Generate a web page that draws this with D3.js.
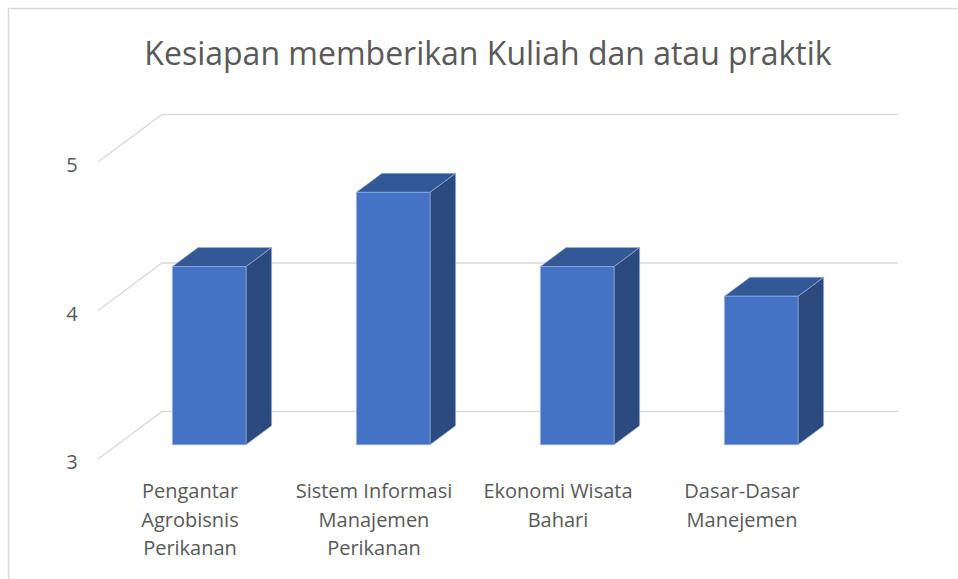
<!DOCTYPE html>
<html>
<head>
<meta charset="utf-8">
<script src="https://cdn.jsdelivr.net/npm/d3@7"></script>
<style>
  body { margin: 0; background: #fff; }
  text { font-family: "Open Sans", sans-serif; fill: #595959; }
</style>
</head>
<body>
<div id="chart"></div>
<script>
const width = 958;
const height = 579;

const title = "Kesiapan memberikan Kuliah dan atau praktik";
const categories = [
    "Pengantar Agrobisnis Perikanan",
    "Sistem Informasi Manajemen Perikanan",
    "Ekonomi Wisata Bahari",
    "Dasar-Dasar Manejemen"
];
const values = [4.2, 4.7, 4.2, 4.0];
const yTicks = [3, 4, 5];

// 3d look: depth vector of the floor/walls and where the bars sit in it
const depth = { dx: 64, dy: -47.5 };
const barDepth = [0.3, 0.7];

const svg = d3.select("#chart")
    .append("svg")
    .attr("width", width)
    .attr("height", height);

// chart frame (only top/left edge visible in the crop)
svg.append("rect")
    .attr("x", 8.5)
    .attr("y", 8.5)
    .attr("width", width + 20)
    .attr("height", height + 20)
    .style("fill", "none")
    .style("stroke", "#d9d9d9")
    .style("stroke-width", 1.5);

svg.append("text")
    .attr("x", 488)
    .attr("y", 65)
    .attr("text-anchor", "middle")
    .style("font-size", "32px")
    .text(title);

const x = d3.scaleBand()
    .domain(categories)
    .range([98, 834])
    .padding(0);

const y = d3.scaleLinear()
    .domain([3, 5])
    .range([459, 162]);

function project(px, py, d) {
    return [px + d * depth.dx, py + d * depth.dy];
}

// gridlines: front edge -> back wall
const line = d3.line();
svg.append("g")
    .selectAll("path")
    .data(yTicks)
    .enter()
    .append("path")
    .attr("d", v => line([
        [x.range()[0], y(v)],
        project(x.range()[0], y(v), 1),
        project(x.range()[1], y(v), 1)
    ]))
    .style("fill", "none")
    .style("stroke", "#d9d9d9")
    .style("stroke-width", 1.5);

svg.append("g")
    .selectAll("text")
    .data(yTicks)
    .enter()
    .append("text")
    .attr("x", 72)
    .attr("y", v => y(v) + 10)
    .attr("text-anchor", "middle")
    .style("font-size", "20px")
    .text(d => d);

// bars
const barW = x.bandwidth() * 0.4;
const bars = svg.append("g")
    .selectAll("g")
    .data(categories.map((c, i) => ({ name: c, value: values[i] })))
    .enter()
    .append("g");

function face(d, kind) {
    const x0 = x(d.name) + x.bandwidth() / 2 - barW / 2;
    const x1 = x0 + barW;
    const yt = y(d.value);
    const yb = y(3);
    const a = barDepth[0], b = barDepth[1];
    let pts;
    if (kind === "front") {
        pts = [project(x0, yt, a), project(x1, yt, a), project(x1, yb, a), project(x0, yb, a)];
    } else if (kind === "top") {
        pts = [project(x0, yt, a), project(x0, yt, b), project(x1, yt, b), project(x1, yt, a)];
    } else {
        pts = [project(x1, yt, a), project(x1, yt, b), project(x1, yb, b), project(x1, yb, a)];
    }
    return line(pts) + "Z";
}

[["side", "#2c4a7e"], ["top", "#325896"], ["front", "#4472c4"]].forEach(([kind, color]) => {
    bars.append("path")
        .attr("d", d => face(d, kind))
        .style("fill", color)
        .style("stroke", "#9fb6e0")
        .style("stroke-width", 0.6)
        .style("stroke-linejoin", "round");
});

// category labels, wrapped like the original
const labels = svg.append("g")
    .selectAll("text")
    .data(categories)
    .enter()
    .append("text")
    .attr("text-anchor", "middle")
    .style("font-size", "20px")
    .attr("y", 498);

labels.each(function (c) {
    const el = d3.select(this);
    const cx = x(c) + x.bandwidth() / 2;
    const words = c.split(" ");
    let lineWords = [];
    let tspan = el.append("tspan").attr("x", cx).attr("dy", 0);
    words.forEach(w => {
        lineWords.push(w);
        tspan.text(lineWords.join(" "));
        if (tspan.node().getComputedTextLength() > 176 && lineWords.length > 1) {
            lineWords.pop();
            tspan.text(lineWords.join(" "));
            lineWords = [w];
            tspan = el.append("tspan").attr("x", cx).attr("dy", 28.5).text(w);
        }
    });
});
</script>
</body>
</html>
